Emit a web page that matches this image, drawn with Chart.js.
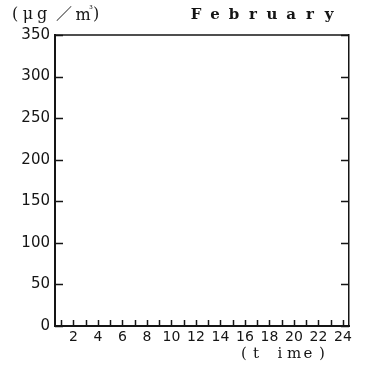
<!DOCTYPE html>
<html>
<head>
<meta charset="utf-8">
<script src="https://cdn.jsdelivr.net/npm/chart.js@4.4.1/dist/chart.umd.min.js"></script>
<style>
  html, body { margin: 0; padding: 0; background: #fff; }
  #wrap { width: 366px; height: 368px; }
</style>
</head>
<body>
<div id="wrap"><canvas id="febChart"></canvas></div>
<script>
// hourly categories, no values plotted for February
const hours = ['1', '2', '3', '4', '5', '6', '7', '8', '9', '10', '11', '12',
               '13', '14', '15', '16', '17', '18', '19', '20', '21', '22', '23', '24'];
const concentration = [];
const yTicks = [0, 50, 100, 150, 200, 250, 300, 350];
const unitLabel = ['(', '\u03bc', 'g', '\uff0f', 'm', '\u00b3', ')'];
const monthLabel = 'February';
const timeLabel = '(time)';

const ink = '#151515';
const sans = "'DejaVu Sans', 'Noto Sans', sans-serif";
const serif = "'DejaVu Serif', 'Liberation Serif', 'Noto Sans CJK JP', serif";

// short tick marks pointing into the plot + header texts
const frameMarks = {
    id: 'frameMarks',
    afterDraw(chart) {
        const ctx = chart.ctx;
        const area = chart.chartArea;
        const x = chart.scales.x;
        const y = chart.scales.y;
        ctx.save();
        ctx.strokeStyle = ink;

        // top border
        ctx.lineWidth = 1.5;
        ctx.beginPath();
        ctx.moveTo(area.left, area.top);
        ctx.lineTo(area.right, area.top);
        ctx.stroke();

        // y ticks on both sides
        yTicks.forEach(function(v) {
            const py = Math.round(y.getPixelForValue(v)) + 0.5;
            ctx.beginPath();
            ctx.moveTo(area.left, py);
            ctx.lineTo(area.left + 8, py);
            ctx.moveTo(area.right, py);
            ctx.lineTo(area.right - 8, py);
            ctx.stroke();
        });

        // hour ticks on the bottom
        hours.forEach(function(h, i) {
            const px = Math.round(x.getPixelForTick(i)) + 0.5;
            ctx.beginPath();
            ctx.moveTo(px, area.bottom);
            ctx.lineTo(px, area.bottom - 6);
            ctx.stroke();
        });

        ctx.fillStyle = ink;
        ctx.textBaseline = 'middle';
        ctx.textAlign = 'center';
        const unitX = [15, 28, 42, 64, 83, 91, 96];
        const unitY = [15, 15, 15, 15, 16, 10, 15];
        unitLabel.forEach(function(ch, i) {
            ctx.font = (i === 5 ? '9px ' : '16px ') + serif;
            ctx.fillText(ch, unitX[i], unitY[i]);
        });

        ctx.font = '600 15px ' + serif;
        monthLabel.split('').forEach(function(ch, i) {
            ctx.fillText(ch, 196 + i * 19, 15);
        });

        ctx.font = '15px ' + serif;
        const timeX = [244, 256, 280, 294, 308, 322];
        timeLabel.split('').forEach(function(ch, i) {
            ctx.fillText(ch, timeX[i], 354);
        });
        ctx.restore();
    }
};

new Chart(document.getElementById('febChart').getContext('2d'), {
    type: 'line',
    data: {
        labels: hours,
        datasets: [{
            label: 'February',
            data: concentration,
            borderColor: ink,
            borderWidth: 1.5,
            pointRadius: 0,
            fill: false
        }]
    },
    options: {
        responsive: true,
        maintainAspectRatio: false,
        animation: false,
        layout: { padding: { top: 35, right: 17, left: 0, bottom: 0 } },
        plugins: {
            legend: { display: false },
            tooltip: { enabled: false }
        },
        scales: {
            x: {
                offset: true,
                grid: { display: false, drawTicks: false },
                border: { display: true, color: ink, width: 2 },
                ticks: {
                    color: ink,
                    font: { family: sans, size: 14 },
                    autoSkip: false,
                    maxRotation: 0,
                    padding: 3,
                    callback: function(value, index) {
                        return (index + 1) % 2 === 0 ? hours[index] : '';
                    }
                },
                afterFit: function(scale) { scale.height = 42; }
            },
            y: {
                min: 0,
                max: 350,
                grid: { display: false, drawTicks: false },
                border: { display: true, color: ink, width: 2 },
                afterBuildTicks: function(scale) {
                    scale.ticks = yTicks.map(function(v) { return { value: v }; });
                },
                ticks: {
                    color: ink,
                    font: { family: sans, size: 15 },
                    padding: 5
                },
                afterFit: function(scale) { scale.width = 55; }
            },
            y2: {
                position: 'right',
                min: 0,
                max: 350,
                grid: { display: false, drawTicks: false },
                border: { display: true, color: ink, width: 1.5 },
                ticks: { display: false },
                afterFit: function(scale) { scale.width = 0; }
            }
        }
    },
    plugins: [frameMarks]
});
</script>
</body>
</html>
